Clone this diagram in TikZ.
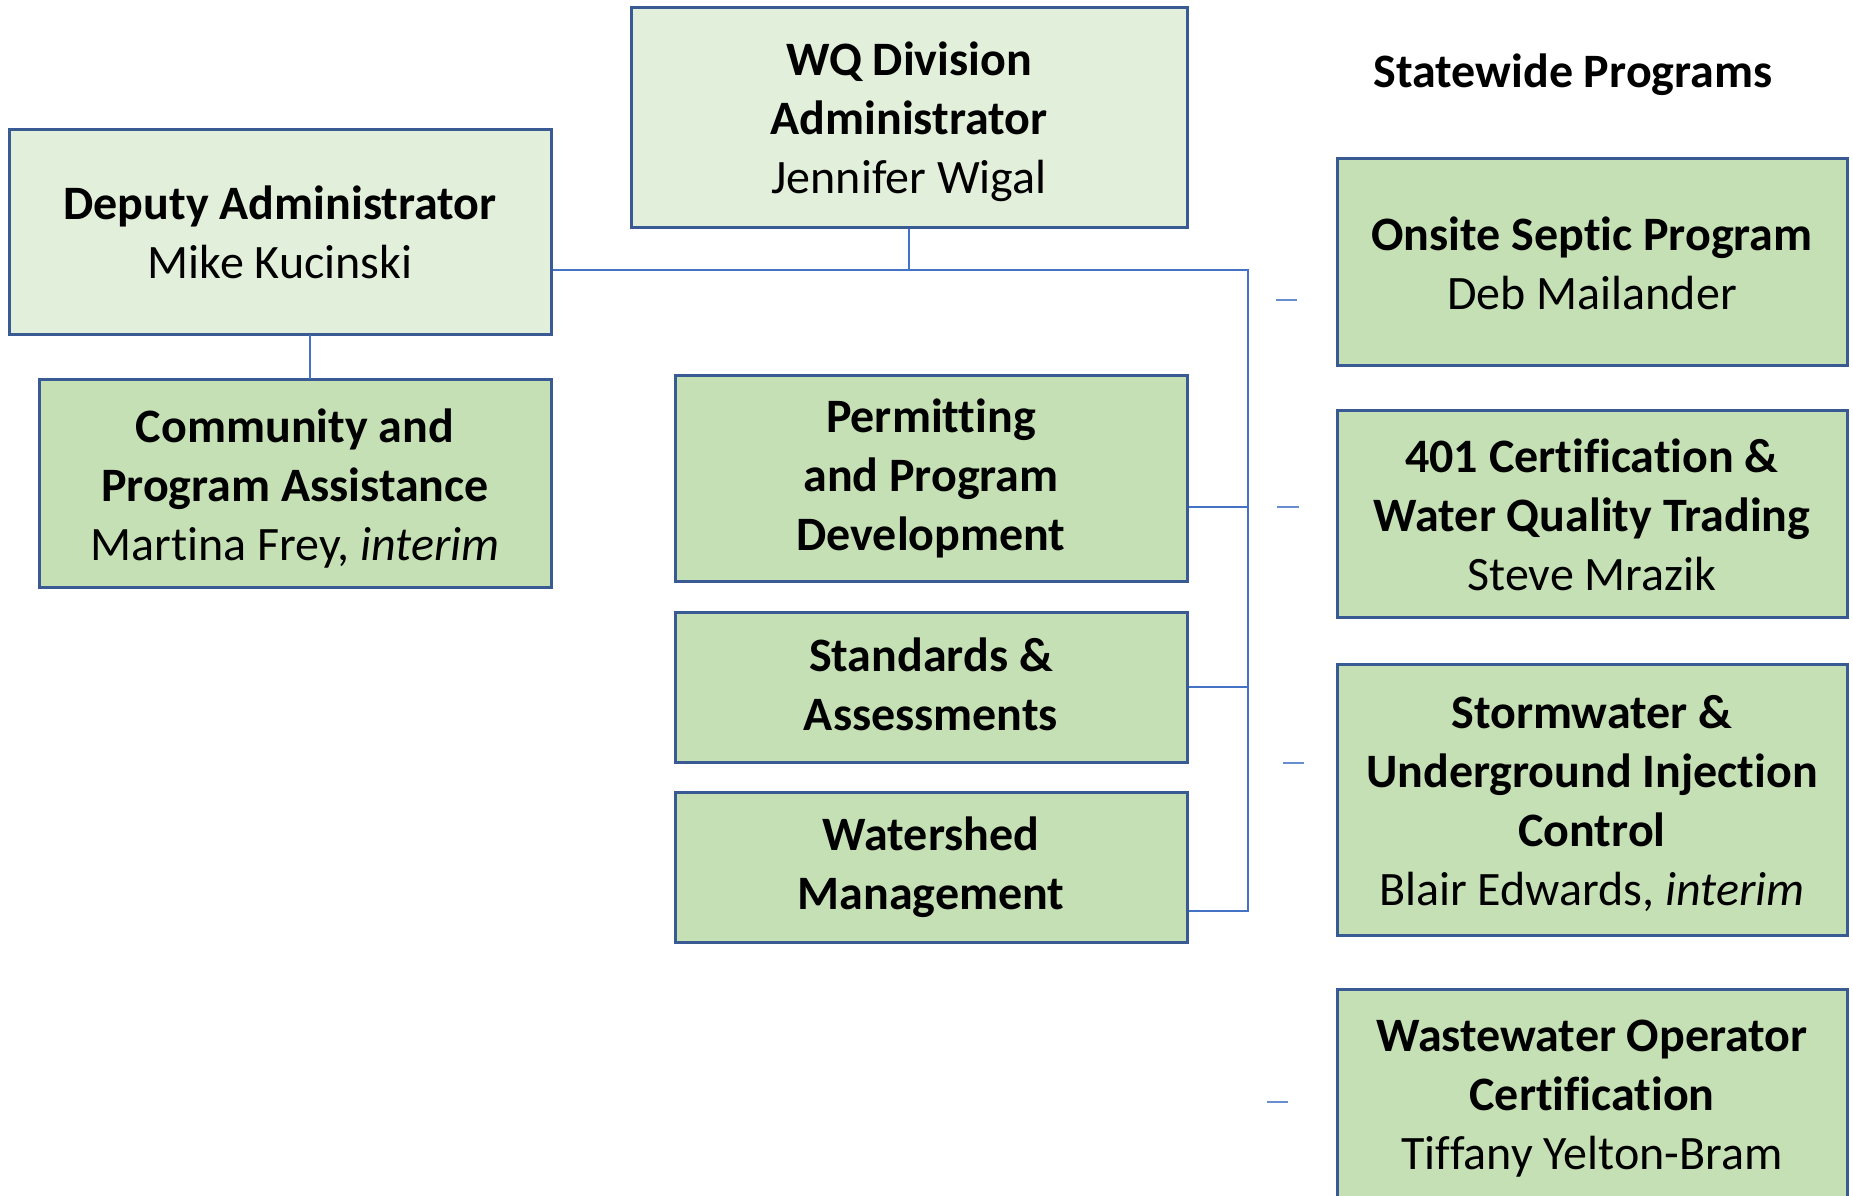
\documentclass[tikz,border=0pt]{standalone}
\usepackage{fontspec}
\setmainfont[Ligatures=NoCommon]{Carlito}
\definecolor{lightg}{HTML}{E2EFDA}
\definecolor{darkg}{HTML}{C5E0B4}
\definecolor{bordc}{HTML}{3A5A94}
\definecolor{linec}{HTML}{4472C4}
\tikzset{
  box/.style={draw=bordc, line width=3pt, inner sep=0pt},
  lbox/.style={box, fill=lightg},
  dbox/.style={box, fill=darkg},
  txt/.style={inner sep=0pt, align=center, font=\fontsize{48}{59}\selectfont},
  conn/.style={draw=linec, line width=1.8pt},
  tick/.style={draw=linec!80, line width=2.5pt}
}
\begin{document}
\begin{tikzpicture}[x=1pt,y=-1pt]
\clip (0,0) rectangle (1853,1195);
\fill[white] (0,0) rectangle (1853,1195);
% boxes
\node[lbox, minimum width=556pt, minimum height=220pt] (wq) at (909,117) {};
\node[lbox, minimum width=542pt, minimum height=205pt] (dep) at (280,231.5) {};
\node[dbox, minimum width=512pt, minimum height=208pt] (comm) at (295,483) {};
\node[dbox, minimum width=512pt, minimum height=206pt] (perm) at (931,478) {};
\node[dbox, minimum width=512pt, minimum height=150pt] (std) at (931,687) {};
\node[dbox, minimum width=512pt, minimum height=150pt] (ws) at (931,867.5) {};
\node[dbox, minimum width=510pt, minimum height=207pt] (onsite) at (1592,261.5) {};
\node[dbox, minimum width=510pt, minimum height=207pt] (cert) at (1592,513.5) {};
\node[dbox, minimum width=510pt, minimum height=271pt] (storm) at (1592,799.5) {};
\node[dbox, minimum width=510pt, minimum height=212pt] (wwo) at (1592,1095) {};
% texts
\node[txt] (wqt) at ([yshift=-5pt]wq.center)
  {\textbf{WQ Division}\\\textbf{Administrator}\\Jennifer Wigal};
\node[txt] (dept) at ([yshift=-1pt]dep.center)
  {\textbf{Deputy Administrator}\\Mike Kucinski};
\node[txt] (commt) at ([yshift=-6pt]comm.center)
  {\textbf{Community and}\\\textbf{Program Assistance}\\Martina Frey, \textit{interim}};
\node[txt] (permt) at (perm.center)
  {\textbf{Permitting}\\\textbf{and Program}\\\textbf{Development}};
\node[txt] (stdt) at ([yshift=3pt]std.center)
  {\textbf{Standards \&}\\\textbf{Assessments}};
\node[txt] (wst) at (ws.center)
  {\textbf{Watershed}\\\textbf{Management}};
\node[txt] (onsitet) at ([yshift=-2pt]onsite.center)
  {\textbf{Onsite Septic Program}\\Deb Mailander};
\node[txt] (certt) at ([yshift=-1pt]cert.center)
  {\textbf{401 Certification \&}\\\textbf{Water Quality Trading}\\Steve Mrazik};
\node[txt] (stormt) at ([yshift=-4pt]storm.center)
  {\textbf{Stormwater \&}\\\textbf{Underground Injection}\\\textbf{Control}\\Blair Edwards, \textit{interim}};
\node[txt] (wwot) at ([yshift=-4pt]wwo.center)
  {\textbf{Wastewater Operator}\\\textbf{Certification}\\Tiffany Yelton-Bram};
\node[txt, font=\fontsize{48}{59}\selectfont\bfseries] (title) at (1573,75) {Statewide Programs};
% connectors
\coordinate (j1) at (909,270);
\coordinate (jr) at (1248,270);
\coordinate (jb) at (1248,911);
\coordinate (pj) at (1248,507);
\coordinate (sj) at (1248,687);
\coordinate (dj) at (310,334.5);
\coordinate (cj) at (310,379);
\draw[conn] (wq.south) -- (j1);
\draw[conn] (dep.east |- j1) -- (jr) -- (jb) -- (ws.east |- jb);
\draw[conn] (perm.east |- pj) -- (pj);
\draw[conn] (std.east |- sj) -- (sj);
\draw[conn] (dj) -- (cj);
% small ticks
\coordinate (t1a) at (1276,300); \coordinate (t1b) at (1297,300);
\coordinate (t2a) at (1277,507); \coordinate (t2b) at (1299,507);
\coordinate (t3a) at (1283,763); \coordinate (t3b) at (1304,763);
\coordinate (t4a) at (1267,1102); \coordinate (t4b) at (1288,1102);
\draw[tick] (t1a) -- (t1b);
\draw[tick] (t2a) -- (t2b);
\draw[tick] (t3a) -- (t3b);
\draw[tick] (t4a) -- (t4b);
\end{tikzpicture}
\end{document}
